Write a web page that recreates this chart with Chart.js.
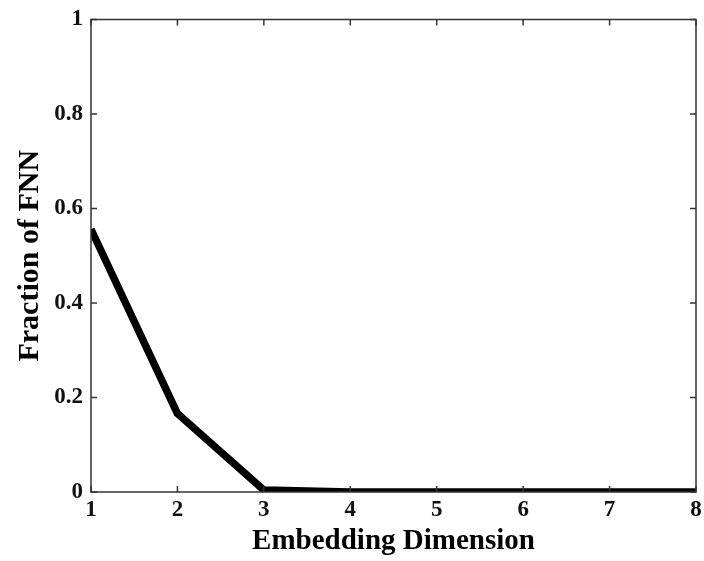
<!DOCTYPE html>
<html>
<head>
<meta charset="utf-8">
<script src="https://cdn.jsdelivr.net/npm/chart.js@4.4.1/dist/chart.umd.min.js"></script>
<style>
  html, body { margin: 0; padding: 0; background: #fff; }
  #wrap { width: 704px; height: 561px; }
</style>
</head>
<body>
<div id="wrap"><canvas id="chart"></canvas></div>
<script>
// embedding dimension vs fraction of false nearest neighbours
const dims = [1, 2, 3, 4, 5, 6, 7, 8];
const fnnFraction = [0.556, 0.166, 0.004, 0, 0, 0, 0, 0];
const xTicks = [1, 2, 3, 4, 5, 6, 7, 8];
const yTicks = [0, 0.2, 0.4, 0.6, 0.8, 1];

const serif = '"Liberation Serif", "Times New Roman", serif';

// MATLAB-like box with inward ticks on every side
const boxTicks = {
  id: 'boxTicks',
  afterDraw(chart) {
    const { ctx, chartArea: a, scales: { x, y } } = chart;
    const len = 6;
    ctx.save();
    ctx.strokeStyle = '#333';
    ctx.lineWidth = 1.5;
    ctx.strokeRect(a.left, a.top, a.right - a.left, a.bottom - a.top);
    ctx.beginPath();
    xTicks.forEach(v => {
      const px = x.getPixelForValue(v);
      ctx.moveTo(px, a.bottom); ctx.lineTo(px, a.bottom - len);
      ctx.moveTo(px, a.top); ctx.lineTo(px, a.top + len);
    });
    yTicks.forEach(v => {
      const py = y.getPixelForValue(v);
      ctx.moveTo(a.left, py); ctx.lineTo(a.left + len, py);
      ctx.moveTo(a.right, py); ctx.lineTo(a.right - len, py);
    });
    ctx.stroke();
    ctx.restore();
  }
};

new Chart(document.getElementById('chart'), {
  type: 'line',
  data: {
    datasets: [{
      data: dims.map((d, i) => ({ x: d, y: fnnFraction[i] })),
      borderColor: '#000',
      borderWidth: 7.5,
      pointRadius: 0,
      tension: 0,
      clip: 0,
      borderJoinStyle: 'round'
    }]
  },
  plugins: [boxTicks],
  options: {
    responsive: true,
    maintainAspectRatio: false,
    animation: false,
    layout: { padding: { top: 18, right: 8, left: 12, bottom: 0 } },
    plugins: { legend: { display: false }, tooltip: { enabled: false } },
    scales: {
      x: {
        type: 'linear',
        min: 1, max: 8,
        afterBuildTicks: s => { s.ticks = xTicks.map(v => ({ value: v })); },
        afterFit: s => { s.height = 69; s.paddingRight = 0; s.paddingLeft = 0; },
        grid: { display: false, drawTicks: false },
        border: { display: false },
        ticks: {
          color: '#111',
          padding: 7,
          font: { family: serif, size: 23, weight: 'bold', lineHeight: 1 }
        },
        title: {
          display: true,
          text: 'Embedding Dimension',
          color: '#000',
          padding: { top: 0, bottom: 2 },
          font: { family: serif, size: 29, weight: 'bold' }
        }
      },
      y: {
        min: 0, max: 1,
        afterBuildTicks: s => { s.ticks = yTicks.map(v => ({ value: v })); },
        afterFit: s => { s.width = 79; },
        grid: { display: false, drawTicks: false },
        border: { display: false },
        ticks: {
          color: '#111',
          padding: 8,
          font: { family: serif, size: 23, weight: 'bold', lineHeight: 1 },
          callback: v => String(v)
        },
        title: {
          display: true,
          text: 'Fraction of FNN',
          color: '#000',
          padding: { top: 0, bottom: 0 },
          font: { family: serif, size: 30, weight: 'bold' }
        }
      }
    }
  }
});
</script>
</body>
</html>
